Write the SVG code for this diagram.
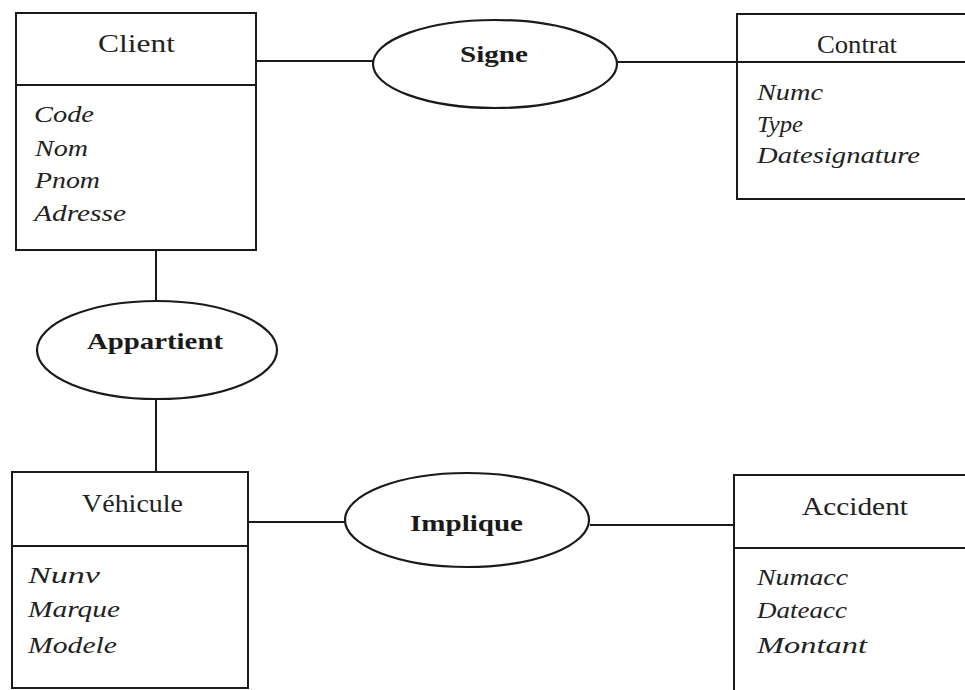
<svg xmlns="http://www.w3.org/2000/svg" width="965" height="690" viewBox="0 0 965 690">
<style>
.box{fill:none;stroke:#1a1a1a;stroke-width:2}
.rel{fill:#fff;stroke:#1a1a1a;stroke-width:2.2}
.con{stroke:#1a1a1a;stroke-width:2;fill:none}
.h{font-family:"Liberation Serif",serif;font-size:26px;fill:#222}
.r{font-family:"Liberation Serif",serif;font-size:24px;font-weight:bold;fill:#1a1a1a}
.a{font-family:"Liberation Serif",serif;font-size:24px;font-style:italic;fill:#222}
</style>
<rect width="965" height="690" fill="#fff"/>
<g id="connectors">
<line class="con" x1="256" y1="61" x2="374" y2="61"/>
<line class="con" x1="617" y1="62" x2="737" y2="62"/>
<line class="con" x1="156" y1="250" x2="156" y2="301"/>
<line class="con" x1="156" y1="399" x2="156" y2="472"/>
<line class="con" x1="248" y1="522" x2="345" y2="522"/>
<line class="con" x1="590" y1="525" x2="734" y2="525"/>
</g>
<g id="client">
<rect class="box" x="16" y="13" width="240" height="237"/>
<line class="box" x1="16" y1="85" x2="256" y2="85"/>
<text class="h" x="98" y="52" textLength="77" lengthAdjust="spacingAndGlyphs">Client</text>
<text class="a" x="34" y="122" textLength="60" lengthAdjust="spacingAndGlyphs">Code</text>
<text class="a" x="35" y="156" textLength="53" lengthAdjust="spacingAndGlyphs">Nom</text>
<text class="a" x="35" y="188" textLength="65" lengthAdjust="spacingAndGlyphs">Pnom</text>
<text class="a" x="34" y="221" textLength="92" lengthAdjust="spacingAndGlyphs">Adresse</text>
</g>
<g id="signe">
<ellipse class="rel" cx="495" cy="64" rx="122" ry="44"/>
<text class="r" x="460" y="62" textLength="68" lengthAdjust="spacingAndGlyphs">Signe</text>
</g>
<g id="contrat">
<rect class="box" x="737" y="14" width="240" height="185"/>
<line class="box" x1="737" y1="62" x2="965" y2="62"/>
<text class="h" x="817" y="53" textLength="80" lengthAdjust="spacingAndGlyphs">Contrat</text>
<text class="a" x="757" y="100" textLength="66" lengthAdjust="spacingAndGlyphs">Numc</text>
<text class="a" x="757" y="132" textLength="46" lengthAdjust="spacingAndGlyphs">Type</text>
<text class="a" x="757" y="163" textLength="163" lengthAdjust="spacingAndGlyphs">Datesignature</text>
</g>
<g id="appartient">
<ellipse class="rel" cx="157" cy="350" rx="120" ry="49"/>
<text class="r" x="87" y="349" textLength="136" lengthAdjust="spacingAndGlyphs">Appartient</text>
</g>
<g id="vehicule">
<rect class="box" x="12" y="472" width="236" height="216"/>
<line class="box" x1="12" y1="546" x2="248" y2="546"/>
<text class="h" x="82" y="512" textLength="101" lengthAdjust="spacingAndGlyphs">Véhicule</text>
<text class="a" x="28" y="583" textLength="72" lengthAdjust="spacingAndGlyphs">Nunv</text>
<text class="a" x="28" y="617" textLength="92" lengthAdjust="spacingAndGlyphs">Marque</text>
<text class="a" x="28" y="653" textLength="89" lengthAdjust="spacingAndGlyphs">Modele</text>
</g>
<g id="implique">
<ellipse class="rel" cx="467" cy="520" rx="122" ry="47"/>
<text class="r" x="410" y="531" textLength="113" lengthAdjust="spacingAndGlyphs">Implique</text>
</g>
<g id="accident">
<rect class="box" x="734" y="475" width="240" height="230"/>
<line class="box" x1="734" y1="548" x2="965" y2="548"/>
<text class="h" x="802" y="515" textLength="106" lengthAdjust="spacingAndGlyphs">Accident</text>
<text class="a" x="757" y="585" textLength="91" lengthAdjust="spacingAndGlyphs">Numacc</text>
<text class="a" x="757" y="618" textLength="90" lengthAdjust="spacingAndGlyphs">Dateacc</text>
<text class="a" x="757" y="653" textLength="110" lengthAdjust="spacingAndGlyphs">Montant</text>
</g>
</svg>
